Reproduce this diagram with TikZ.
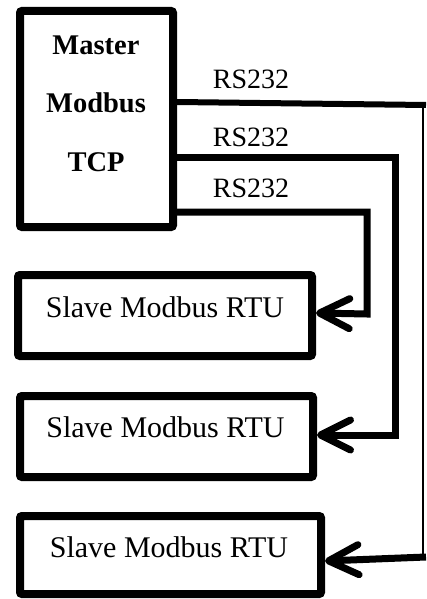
\documentclass[tikz,border=0pt]{standalone}
\usepackage{fontspec}
\setmainfont{Liberation Serif}
\usetikzlibrary{arrows.meta}
\begin{document}
\begin{tikzpicture}[x=1pt,y=-1pt,
  box/.style={draw=black,line width=8pt,rounded corners=2pt,inner sep=0pt},
  lbl/.style={font=\fontsize{28}{30}\selectfont,inner sep=0pt},
  slbl/.style={font=\fontsize{30}{32}\selectfont,inner sep=0pt},
  mlbl/.style={font=\fontsize{28.5}{30}\selectfont\bfseries,inner sep=0pt},
  wire/.style={line width=7pt,line join=miter},
  barb/.style={-{Straight Barb[length=30pt,width=30pt,round]}}]
\useasboundingbox (0,0) rectangle (426,599);
% boxes
\node[box,minimum width=153pt,minimum height=216pt] (master) at (96.5,119) {};
\node[box,minimum width=294pt,minimum height=81pt] (s1) at (165,315.5) {};
\node[box,minimum width=293pt,minimum height=81pt] (s2) at (166.5,436.5) {};
\node[box,minimum width=301pt,minimum height=78pt] (s3) at (170.5,555) {};
% texts
\node[mlbl] (m1) at (96,45) {Master};
\node[mlbl] (m2) at (96,103) {Modbus};
\node[mlbl] (m3) at (96,162) {TCP};
\node[slbl] (t1) at (165,307) {Slave Modbus RTU};
\node[slbl] (t2) at (165.5,427) {Slave Modbus RTU};
\node[slbl] (t3) at (169,547) {Slave Modbus RTU};
\node[lbl] (r1) at (251,79) {RS232};
\node[lbl] (r2) at (251,137) {RS232};
\node[lbl] (r3) at (251,188) {RS232};
% connector coordinates
\coordinate (a1) at (426,105);
\coordinate (a2) at (423,104);
\coordinate (a3) at (423,557);
\coordinate (a4) at (426,557);
\coordinate (b1) at (395,157);
\coordinate (b2) at (395,435);
\coordinate (c1) at (367,212);
\coordinate (c2) at (367,314);
% connector 1 (outer)
\draw[line width=6pt] (master.east |- 0,102) -- (a1);
\draw[line width=2pt] (a2) -- (a3);
\draw[wire,barb] (a4) -- (s3.east |- 0,561);
% connector 2
\draw[wire,barb] (master.east |- b1) -- (b1) -- (b2) -- (s2.east |- b2);
% connector 3
\draw[wire,barb] (master.east |- c1) -- (c1) -- (c2) -- (s1.east |- 0,313);
\end{tikzpicture}
\end{document}
